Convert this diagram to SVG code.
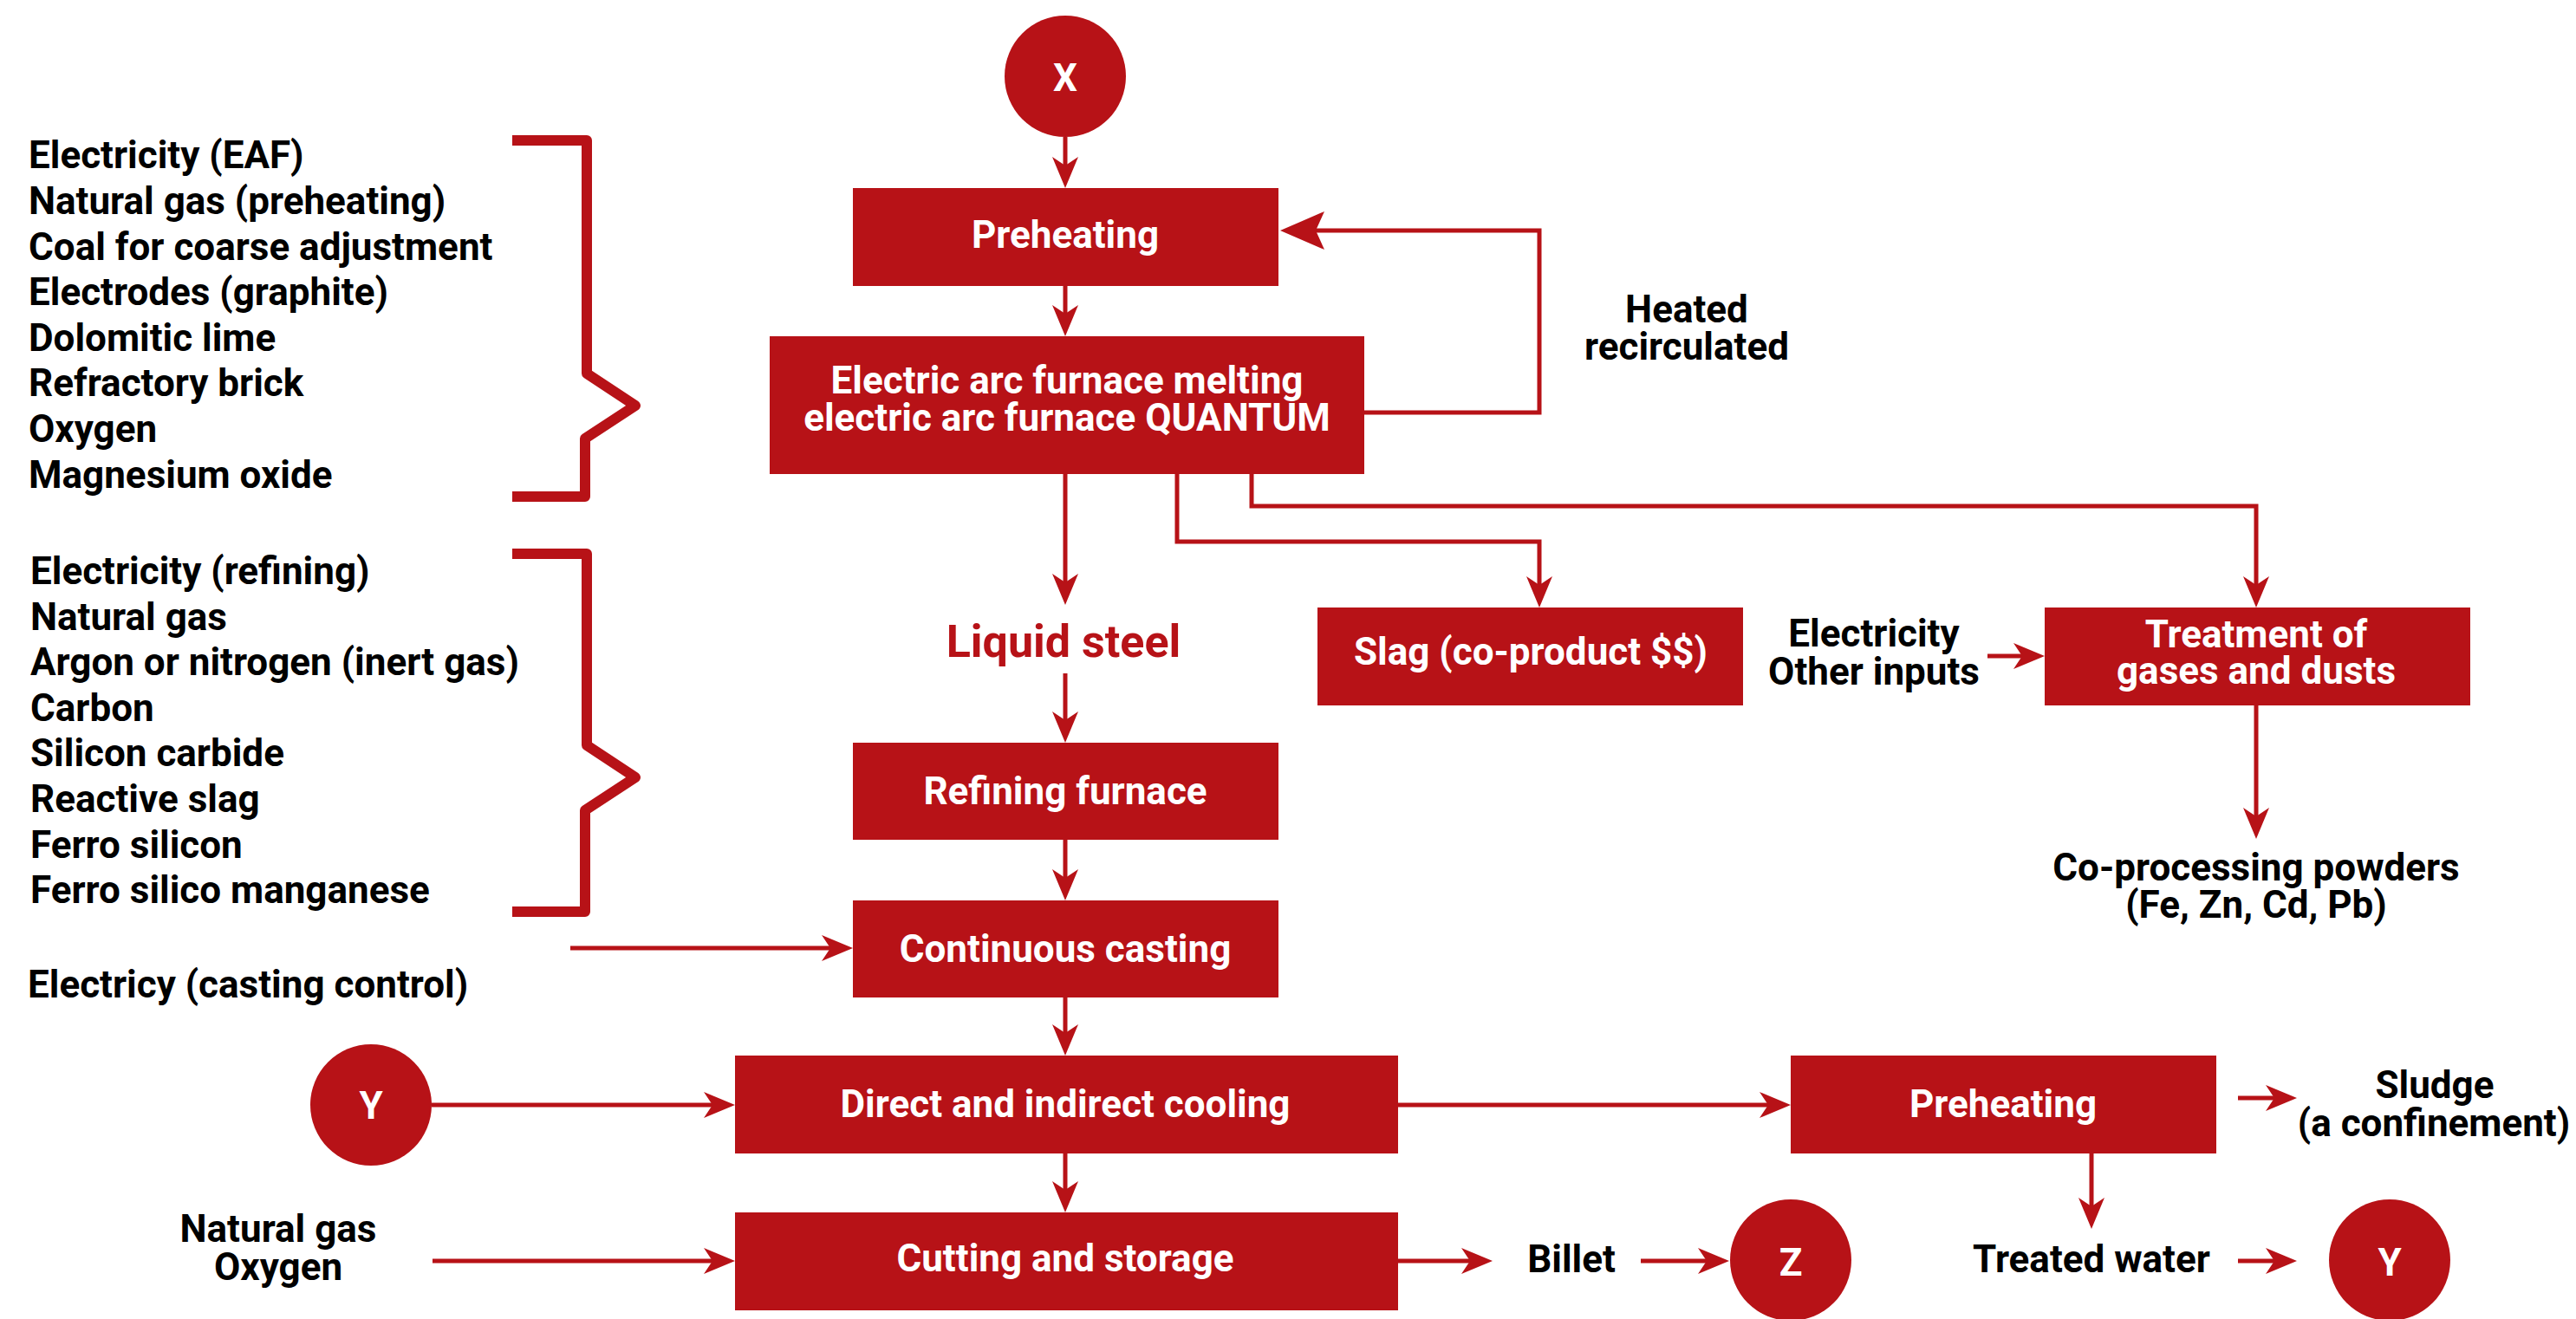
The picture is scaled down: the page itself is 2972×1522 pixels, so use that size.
<svg xmlns="http://www.w3.org/2000/svg" width="2972" height="1522" viewBox="0 0 2972 1522">
<style>
.box{fill:#B71217}
.wt{font-family:Roboto,"Liberation Sans",sans-serif;font-weight:700;font-size:44px;fill:#FFFFFF;text-anchor:middle}
.bt{font-family:Roboto,"Liberation Sans",sans-serif;font-weight:700;font-size:44px;fill:#000000;text-anchor:middle}
.lt{font-family:Roboto,"Liberation Sans",sans-serif;font-weight:700;font-size:44px;fill:#000000;text-anchor:start}
.rt{font-family:Roboto,"Liberation Sans",sans-serif;font-weight:700;font-size:52px;fill:#B71217;text-anchor:middle}
.ln{fill:none;stroke:#B71217;stroke-width:5}
.brk{fill:none;stroke:#B71217;stroke-width:12;stroke-linejoin:round}
</style>
<defs>
<marker id="arr" markerUnits="userSpaceOnUse" markerWidth="40" markerHeight="32" refX="10" refY="16" orient="auto">
<path d="M36,16 L0,1 L10,16 L0,31 Z" fill="#B71217"/>
</marker>
<marker id="arrBig" markerUnits="userSpaceOnUse" markerWidth="54" markerHeight="46" refX="10" refY="23" orient="auto">
<path d="M51,23 L0,1 L10,23 L0,45 Z" fill="#B71217"/>
</marker>
</defs>

<g id="connectors">
<path class="ln" marker-end="url(#arr)" d="M1229,158 V191"/>
<path class="ln" marker-end="url(#arr)" d="M1229,330 V362"/>
<path class="ln" marker-end="url(#arr)" d="M1229,547 V672"/>
<path class="ln" marker-end="url(#arr)" d="M1229,777 V831"/>
<path class="ln" marker-end="url(#arr)" d="M1229,969 V1013"/>
<path class="ln" marker-end="url(#arr)" d="M1229,1151 V1192"/>
<path class="ln" marker-end="url(#arr)" d="M1229,1331 V1373"/>
<path class="ln" marker-end="url(#arrBig)" d="M1574,476 H1776 V266 H1518"/>
<path class="ln" marker-end="url(#arr)" d="M1358,547 V625 H1776 V675"/>
<path class="ln" marker-end="url(#arr)" d="M1444,547 V584 H2603 V675"/>
<path class="ln" marker-end="url(#arr)" d="M2293,757 H2333"/>
<path class="ln" marker-end="url(#arr)" d="M2603,814 V942"/>
<path class="ln" marker-end="url(#arr)" d="M658,1094 H958"/>
<path class="ln" marker-end="url(#arr)" d="M498,1275 H822"/>
<path class="ln" marker-end="url(#arr)" d="M499,1455 H822"/>
<path class="ln" marker-end="url(#arr)" d="M1613,1455 H1696"/>
<path class="ln" marker-end="url(#arr)" d="M1893,1455 H1969"/>
<path class="ln" marker-end="url(#arr)" d="M1613,1275 H2040"/>
<path class="ln" marker-end="url(#arr)" d="M2582,1267 H2624"/>
<path class="ln" marker-end="url(#arr)" d="M2413,1331 V1392"/>
<path class="ln" marker-end="url(#arr)" d="M2582,1455 H2624"/>
</g>

<g id="bracket-eaf">
<path class="brk" d="M591,162 H677 V431 L733,468 L675,506 V573 H591"/>
<text class="lt" x="33" y="194">Electricity (EAF)</text>
<text class="lt" x="33" y="247">Natural gas (preheating)</text>
<text class="lt" x="33" y="300">Coal for coarse adjustment</text>
<text class="lt" x="33" y="352">Electrodes (graphite)</text>
<text class="lt" x="33" y="405">Dolomitic lime</text>
<text class="lt" x="33" y="457">Refractory brick</text>
<text class="lt" x="33" y="510">Oxygen</text>
<text class="lt" x="33" y="563">Magnesium oxide</text>
</g>

<g id="bracket-refining">
<path class="brk" d="M591,639 H677 V860 L733,897 L675,935 V1052 H591"/>
<text class="lt" x="35" y="674">Electricity (refining)</text>
<text class="lt" x="35" y="727">Natural gas</text>
<text class="lt" x="35" y="779">Argon or nitrogen (inert gas)</text>
<text class="lt" x="35" y="832">Carbon</text>
<text class="lt" x="35" y="884">Silicon carbide</text>
<text class="lt" x="35" y="937">Reactive slag</text>
<text class="lt" x="35" y="990">Ferro silicon</text>
<text class="lt" x="35" y="1042">Ferro silico manganese</text>
</g>

<g id="node-x">
<circle class="box" cx="1229" cy="88" r="70"/>
<text class="wt" x="1229" y="105">X</text>
</g>

<g id="node-preheating">
<rect class="box" x="984" y="217" width="491" height="113"/>
<text class="wt" x="1229" y="286">Preheating</text>
</g>

<g id="node-eaf">
<rect class="box" x="888" y="388" width="686" height="159"/>
<text class="wt" x="1231" y="454">Electric arc furnace melting</text>
<text class="wt" x="1231" y="497">electric arc furnace QUANTUM</text>
</g>

<g id="label-heated">
<text class="bt" x="1946" y="372">Heated</text>
<text class="bt" x="1946" y="415">recirculated</text>
</g>

<g id="label-liquid-steel">
<text class="rt" x="1227" y="758">Liquid steel</text>
</g>

<g id="node-slag">
<rect class="box" x="1520" y="701" width="491" height="113"/>
<text class="wt" x="1766" y="767">Slag (co-product $$)</text>
</g>

<g id="label-electricity-other">
<text class="bt" x="2162" y="746">Electricity</text>
<text class="bt" x="2162" y="790">Other inputs</text>
</g>

<g id="node-treatment">
<rect class="box" x="2359" y="701" width="491" height="113"/>
<text class="wt" x="2603" y="747">Treatment of</text>
<text class="wt" x="2603" y="789">gases and dusts</text>
</g>

<g id="label-coprocessing">
<text class="bt" x="2603" y="1016">Co-processing powders</text>
<text class="bt" x="2603" y="1059">(Fe, Zn, Cd, Pb)</text>
</g>

<g id="node-refining">
<rect class="box" x="984" y="857" width="491" height="112"/>
<text class="wt" x="1229" y="928">Refining furnace</text>
</g>

<g id="node-casting">
<rect class="box" x="984" y="1039" width="491" height="112"/>
<text class="wt" x="1229" y="1110">Continuous casting</text>
</g>

<g id="label-casting-control">
<text class="lt" x="32" y="1151">Electricy (casting control)</text>
</g>

<g id="node-y-left">
<circle class="box" cx="428" cy="1275" r="70"/>
<text class="wt" x="428" y="1291">Y</text>
</g>

<g id="node-cooling">
<rect class="box" x="848" y="1218" width="765" height="113"/>
<text class="wt" x="1229" y="1289">Direct and indirect cooling</text>
</g>

<g id="node-preheating2">
<rect class="box" x="2066" y="1218" width="491" height="113"/>
<text class="wt" x="2311" y="1289">Preheating</text>
</g>

<g id="label-sludge">
<text class="bt" x="2809" y="1267">Sludge</text>
<text class="bt" x="2808" y="1311">(a confinement)</text>
</g>

<g id="label-natgas-oxygen">
<text class="bt" x="321" y="1433">Natural gas</text>
<text class="bt" x="321" y="1477">Oxygen</text>
</g>

<g id="node-cutting">
<rect class="box" x="848" y="1399" width="765" height="113"/>
<text class="wt" x="1229" y="1467">Cutting and storage</text>
</g>

<g id="label-billet">
<text class="bt" x="1813" y="1468">Billet</text>
</g>

<g id="node-z">
<circle class="box" cx="2066" cy="1454" r="70"/>
<text class="wt" x="2066" y="1472">Z</text>
</g>

<g id="label-treated-water">
<text class="bt" x="2413" y="1468">Treated water</text>
</g>

<g id="node-y-right">
<circle class="box" cx="2757" cy="1454" r="70"/>
<text class="wt" x="2757" y="1472">Y</text>
</g>
</svg>
